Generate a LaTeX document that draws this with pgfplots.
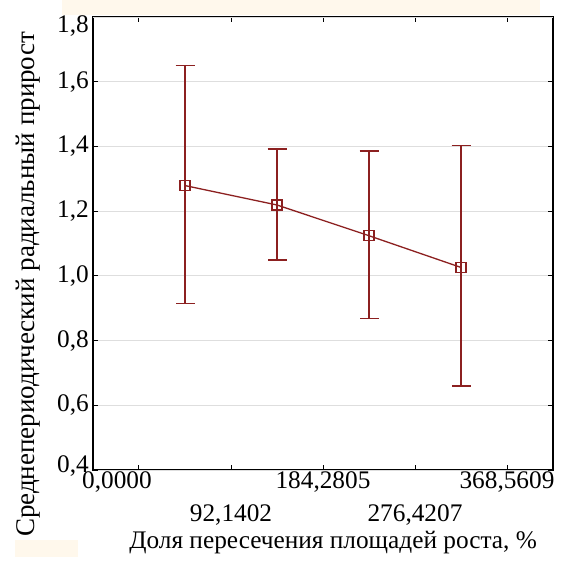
\documentclass[border=0pt]{standalone}
\usepackage{pgfplots}
\pgfplotsset{compat=1.18}
\usepackage{fontspec}
\setmainfont{Liberation Serif}
\definecolor{dred}{RGB}{140,32,32}
\definecolor{cream}{RGB}{255,248,236}
\definecolor{gridgray}{RGB}{222,222,222}
\begin{document}
\fontsize{25.3}{30}\selectfont
\begin{tikzpicture}
\path[use as bounding box] (-93pt,-100pt) rectangle (468pt,470pt);
\fill[cream] (-31pt,455pt) rectangle (447pt,470pt);
\fill[cream] (-78pt,-87pt) rectangle (-15pt,-70pt);
\begin{axis}[
  at={(0,0)}, anchor=south west, scale only axis,
  width=460pt, height=453pt,
  xmin=-46.07, xmax=414.63, ymin=0.4, ymax=1.8,
  axis line style={black, line width=1.3pt},
  tick align=inside, major tick length=5pt,
  tick style={black, line width=1pt},
  xtick={0,184.2805,368.5609},
  xticklabels={{\hspace*{-44pt}0,0000},{184,2805},{368,5609}},
  extra x ticks={92.1402,276.4207},
  extra x tick labels={{92,1402},{276,4207}},
  extra x tick style={xticklabel style={yshift=-33pt}},
  xticklabel style={inner sep=1.5pt},
  ytick={0.6,0.8,1.0,1.2,1.4,1.6},
  extra y ticks={0.4,1.8},
  extra y tick labels={{0,4},{1,8}},
  extra y tick style={yticklabel style={yshift={(\ticknum==0)*4-(\ticknum==1)*9}}},
  yticklabel style={inner sep=4pt},
  /pgf/number format/use comma,
  /pgf/number format/fixed,
  /pgf/number format/fixed zerofill,
  /pgf/number format/precision=1,
  /pgf/number format/assume math mode=true,
  ymajorgrids=true,
  major grid style={gridgray, line width=0.9pt},
  xlabel={Доля пересечения площадей роста, \%},
  ylabel={\fontsize{27}{32}\selectfont Среднепериодический радиальный прирост},
  xlabel style={at={(axis description cs:0.522,-0.161)}, anchor=center, inner sep=1pt},
  ylabel style={at={(axis description cs:-0.141,0.4095)}, anchor=center},
]
\addplot[dred, line width=1.3pt, mark=square, mark size=5pt, mark options={solid, line width=1.2pt},
  error bars/.cd, y dir=both, y explicit,
  error bar style={line width=1.3pt, dred},
  error mark options={rotate=90, mark size=9.5pt, line width=1.3pt, dred}]
coordinates {
  (46.07,1.279) += (0,0.371) -= (0,0.364)
  (138.21,1.219) += (0,0.173) -= (0,0.170)
  (230.35,1.124) += (0,0.262) -= (0,0.255)
  (322.49,1.026) += (0,0.376) -= (0,0.366)
};
\end{axis}
\end{tikzpicture}
\end{document}
